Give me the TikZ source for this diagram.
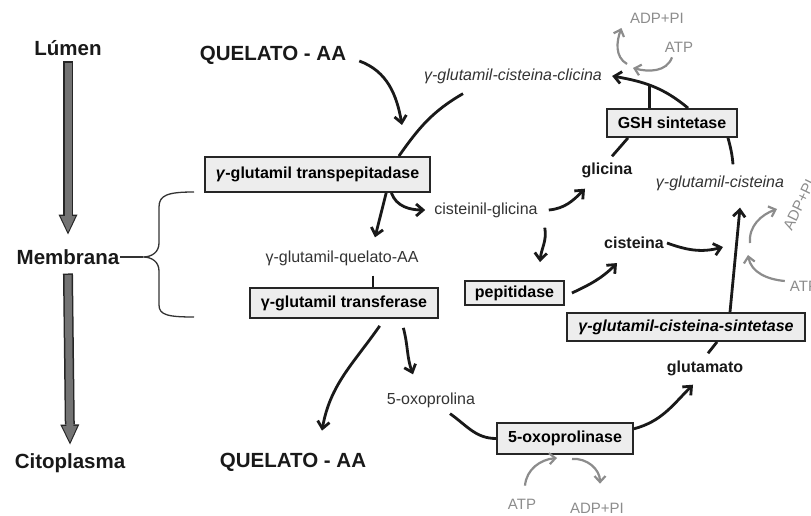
\documentclass[tikz,border=0pt]{standalone}
\usepackage{fontspec}
\setmainfont{Liberation Sans}
\usetikzlibrary{arrows.meta}

\begin{document}
\begin{tikzpicture}[x=1pt, y=1pt,
    enz/.style={draw=black!85, line width=1.8pt, fill=black!7, inner sep=0pt, font=\fontsize{16}{18}\selectfont\bfseries},
    txt/.style={inner sep=1pt, text=black!80, font=\fontsize{16}{18}\selectfont},
    btxt/.style={inner sep=1pt, text=black!90, font=\fontsize{16}{18}\selectfont\bfseries},
    itxt/.style={inner sep=1pt, text=black!80, font=\fontsize{16}{18}\selectfont\itshape},
    big/.style={inner sep=1pt, text=black!90, font=\fontsize{20.5}{24}\selectfont\bfseries},
    atp/.style={inner sep=1pt, text=black!45, font=\fontsize{15}{17}\selectfont},
    flow/.style={line width=2.8pt, black!90, -{Straight Barb[length=7pt,width=12pt]}},
    link/.style={line width=2.8pt, black!90},
    gflow/.style={line width=2.2pt, black!45, -{Straight Barb[length=6pt,width=11pt]}},
    bigarrow/.style={line width=7pt, black!55, -{Triangle[length=16pt,width=15pt,line width=0pt]},
      preaction={draw=black!85, line width=10pt, shorten <=-1.5pt, shorten >=-2.5pt,
        -{Triangle[length=20pt,width=19pt,line width=0pt]}}}]
\useasboundingbox (0,0) rectangle (811,515);

% lumen -> citoplasma
\node[big] (lumen) at (68,467) {Lúmen};
\node[big] (membrana) at (68,258) {Membrana};
\node[big] (citoplasma) at (70,52) {Citoplasma};
\draw[bigarrow] ([yshift=-15pt]lumen.center) -- ([yshift=25pt]membrana.center);
\draw[bigarrow] ([yshift=-18pt]membrana.center) -- ([yshift=21pt]citoplasma.center);
\coordinate (btip) at (143,258);
\draw[black!80, line width=1.3pt] (membrana.east) -- (btip);
\draw[black!80, line width=1.3pt] (194,323) .. controls (168,323) and (159,320) .. (159,308) -- (159,272)
  .. controls (159,263) and (152,258) .. (btip) .. controls (152,258) and (159,253) .. (159,244)
  -- (159,210) .. controls (159,200) and (168,198) .. (194,198);

% nodes
\node[big] (quelatoTop) at (273,460) {QUELATO - AA};
\node[big] (quelatoBot) at (293,53) {QUELATO - AA};
\node[enz, minimum width=225pt, minimum height=35pt] (transpep) at (317.5,340.5) {\textit{γ}-glutamil transpepitadase};
\node[itxt] (clicina) at (513,439) {γ-glutamil-cisteina-clicina};
\node[txt] (quelAA) at (342,257) {γ-glutamil-quelato-AA};
\node[txt] (cistgli) at (486,305) {cisteinil-glicina};
\node[enz, minimum width=188pt, minimum height=30pt] (transferase) at (344,212) {γ-glutamil transferase};
\node[txt] (oxol) at (431,115) {5-oxoprolina};
\node[enz, minimum width=136pt, minimum height=31pt] (oxoase) at (565,76.5) {5-oxoprolinase};
\node[btxt] (glutamato) at (705,147) {glutamato};
\node[enz, minimum width=238pt, minimum height=28pt] (sint) at (686,188) {\itshape γ-glutamil-cisteina-sintetase};
\node[itxt] (gcist) at (720,332) {γ-glutamil-cisteina};
\node[btxt] (cisteina) at (634,272) {cisteina};
\node[enz, minimum width=99pt, minimum height=24pt] (pepit) at (514.5,222) {pepitidase};
\node[btxt] (glicina) at (607,345) {glicina};
\node[enz, minimum width=130pt, minimum height=28pt] (gsh) at (672,392) {GSH sintetase};
\node[atp] (atp1) at (679,468) {ATP};
\node[atp] (adp1) at (657,497) {ADP+PI};
\node[atp] (atp2) at (804,229) {ATP};
\node[atp, rotate=64] (adp2) at (799,310) {ADP+PI};
\node[atp] (atp3) at (522,11) {ATP};
\node[atp] (adp3) at (597,7) {ADP+PI};

\coordinate (j1) at (402,390);
\coordinate (j2) at (723,268);
\coordinate (j3) at (633,447);
\coordinate (j4) at (627,451);
\coordinate (j5) at (748,260);
\coordinate (j6) at (750,272);
\coordinate (j7) at (777,306);
\coordinate (j8) at (557,57);
\coordinate (j9) at (572,56);

% connectors
\draw[flow] ([xshift=12pt,yshift=-6pt]quelatoTop.east) to[out=-20,in=100] (j1);
\draw[link] ([xshift=-50pt,yshift=-9pt]clicina.south) to[out=210,in=55] ([xshift=-32pt]transpep.north east);
\draw[flow] (transpep.-15) -- ([xshift=33pt,yshift=12pt]quelAA.north);
\draw[flow] (transpep.-14) to[out=-70,in=180] ([xshift=-8pt]cistgli.west);
\draw[link] ([xshift=31pt,yshift=-9pt]quelAA.south) -- ([xshift=29pt]transferase.north);
\draw[flow] ([yshift=-7pt]transferase.-24) to[out=235,in=80] ([xshift=29pt,yshift=21pt]quelatoBot.north);
\draw[flow] ([yshift=-9pt]transferase.-15) to[out=-75,in=110] ([xshift=-18pt,yshift=17pt]oxol.north);
\draw[link] ([xshift=19pt,yshift=-5pt]oxol.south) to[out=-35,in=180] (oxoase.west);
\draw[flow] (oxoase.8) to[out=15,in=225] ([xshift=-12pt,yshift=-8pt]glutamato.south);
\draw[link] ([xshift=3pt,yshift=6pt]glutamato.north) -- ([xshift=31pt]sint.south);
\draw[flow] ([xshift=44pt]sint.north) -- ([xshift=20pt,yshift=-16pt]gcist.south);
\draw[flow] ([xshift=2pt]cisteina.east) to[out=-20,in=195] (j2);
\draw[flow] ([xshift=7pt]pepit.east) to[out=25,in=225] ([xshift=-17pt,yshift=-13pt]cisteina.south);
\draw[flow] ([xshift=6pt,yshift=-9pt]cistgli.south east) to[out=-80,in=85] ([xshift=25.5pt,yshift=18pt]pepit.north);
\draw[flow] ([xshift=10pt]cistgli.east) to[out=5,in=225] ([xshift=-22pt,yshift=-10pt]glicina.south);
\draw[link] ([xshift=5pt,yshift=5pt]glicina.north) -- ([xshift=-44pt]gsh.south);
\draw[link] ([xshift=13pt,yshift=10pt]gcist.north) to[out=95,in=-75] ([xshift=56pt]gsh.south);
\draw[flow] ([xshift=16pt]gsh.north) to[out=140,in=-10] coordinate[pos=0.55] (gj) ([xshift=9pt]clicina.east);
\draw[link] (gj |- gsh.north) -- (gj);

% ATP -> ADP+PI
\draw[gflow] ([xshift=-7pt,yshift=-4pt]atp1.south) to[out=250,in=-15] (j3);
\draw[gflow] (j4) to[out=150,in=250] ([xshift=-7.5pt,yshift=-10pt]adp1.west);
\draw[gflow] ([xshift=-4pt,yshift=5pt]atp2.west) to[out=175,in=-80] (j5);
\draw[gflow] (j6) to[out=95,in=200] (j7);
\draw[gflow] ([xshift=3pt,yshift=12pt]atp3.north) to[out=85,in=185] (j8);
\draw[gflow] (j9) to[out=5,in=90] ([xshift=3pt,yshift=18pt]adp3.north);
\end{tikzpicture}
\end{document}
